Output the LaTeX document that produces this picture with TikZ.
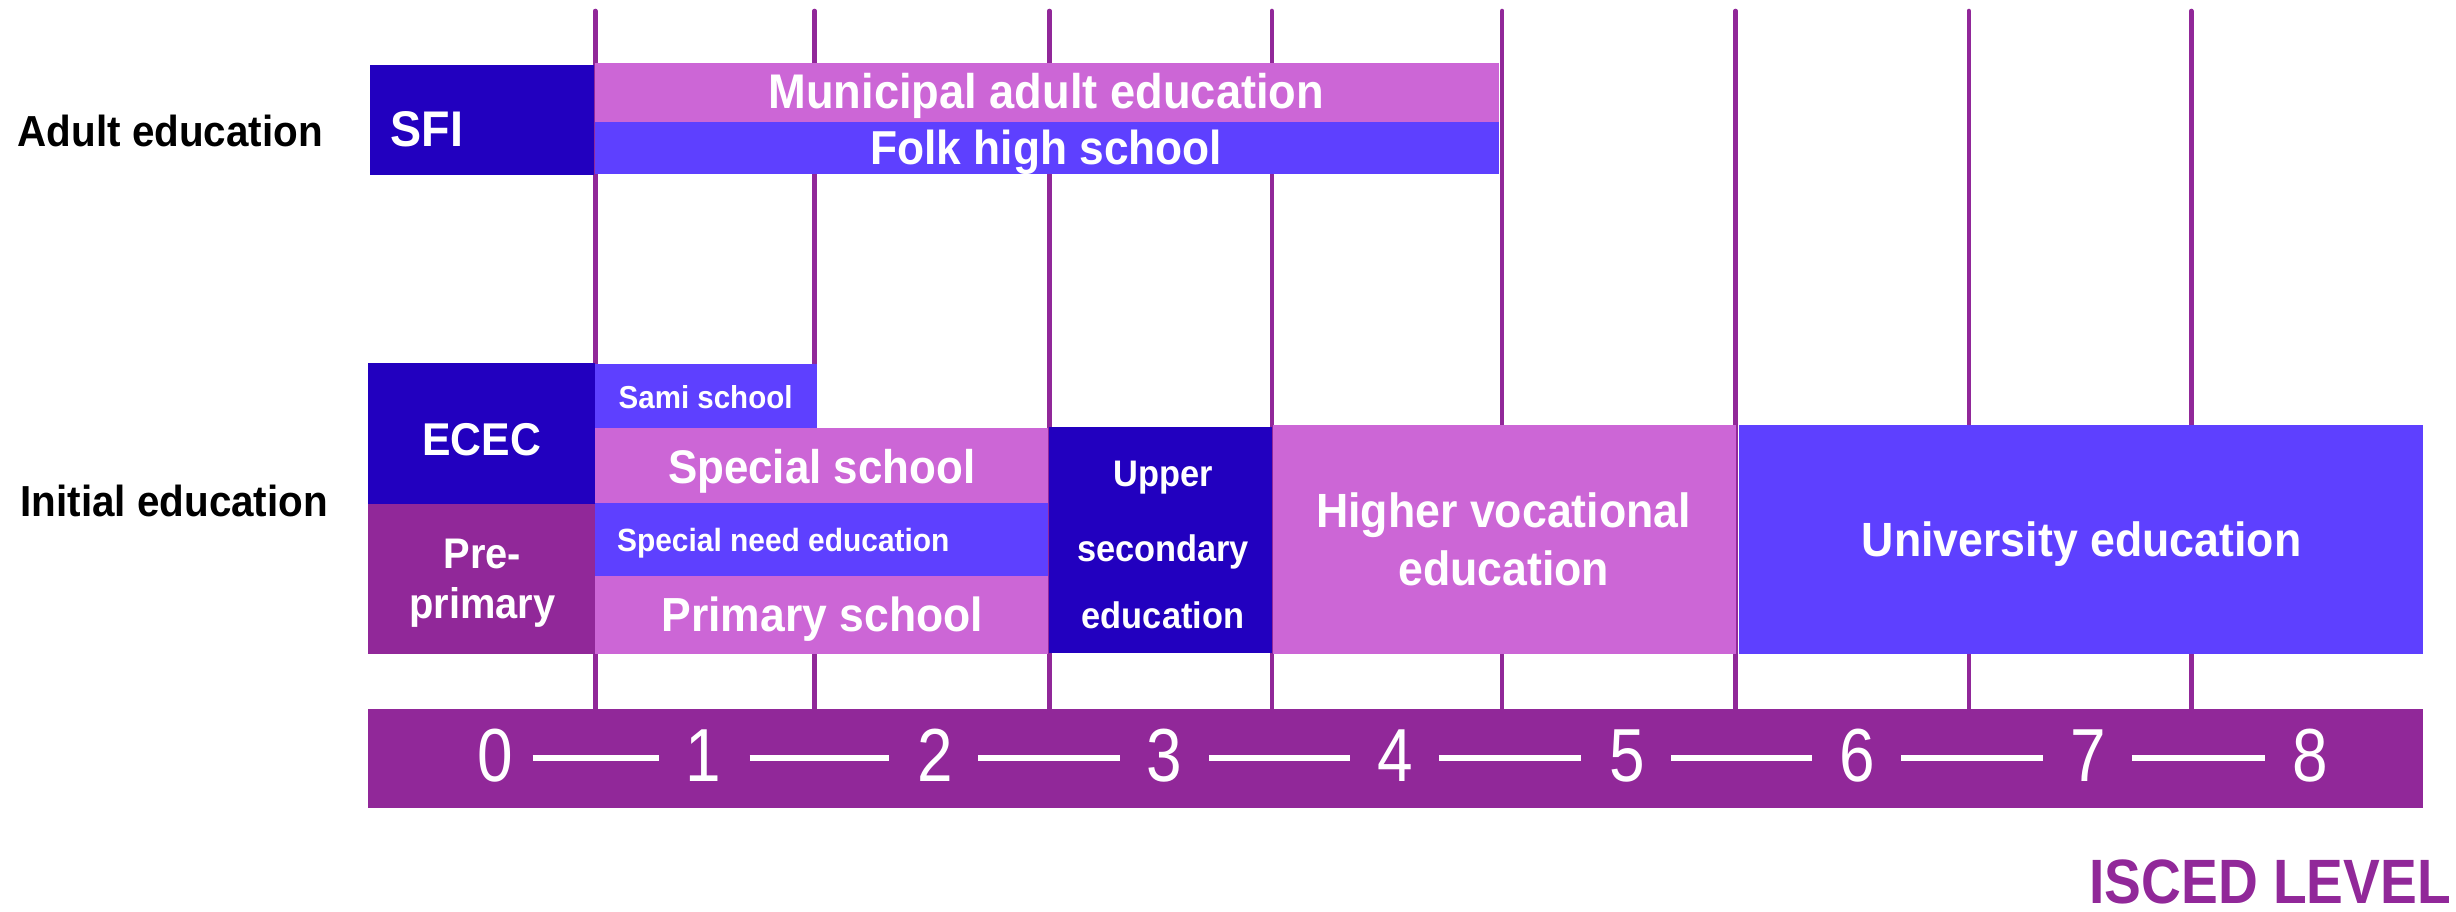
\documentclass[tikz,border=0pt]{standalone}
\usepackage{fontspec}
\setmainfont{Liberation Sans}[FakeStretch=0.93]
\newfontfamily\iscedfont{Liberation Sans}[FakeStretch=0.88]
\newfontfamily\digitfont{Liberation Sans}[FakeStretch=0.85]
\usetikzlibrary{calc}
\definecolor{dblue}{HTML}{2200BF}
\definecolor{vblue}{HTML}{5E40FF}
\definecolor{orchid}{HTML}{CC66D6}
\definecolor{plum}{HTML}{912899}
\begin{document}
\begin{tikzpicture}[x=0.75pt,y=-0.75pt,
  gridln/.style={draw=plum,line width=2.2pt,line cap=round},
  lbl/.style={anchor=base,inner sep=0pt,text=white},
  fs/.style={font=\fontsize{#1}{#1}\selectfont\bfseries},
  rowlbl/.style={anchor=base west,inner sep=0pt,text=black},
  digit/.style={anchor=base,inner sep=0pt,text=white,font=\digitfont\fontsize{36}{36}\selectfont},
  dashln/.style={draw=white,line width=2.9pt}]
\useasboundingbox (0,0) rectangle (1568,582);

% level grid lines
\foreach \x in {380,520,670,812,959,1108,1257,1399}
  \draw[gridln] (\x,7) -- (\x,453);

% boxes
\fill[dblue]  (236.4,41.5) rectangle (379,112);
\fill[orchid] (380,40) rectangle (957,77.7);
\fill[vblue]  (380,77.7) rectangle (957,111);
\fill[dblue]  (235,231.6) rectangle (380,322);
\fill[plum]   (235,322) rectangle (380,417.6);
\fill[vblue]  (380,232.6) rectangle (521.5,273);
\fill[orchid] (380,273) rectangle (669,321);
\fill[vblue]  (380,321) rectangle (669,368);
\fill[orchid] (380,368) rectangle (669,417.6);
\fill[dblue]  (670,272.6) rectangle (812,417);
\fill[orchid] (813,271.3) rectangle (1108,417.6);
\fill[vblue]  (1110,271.3) rectangle (1547,417.6);
\fill[plum]   (235,452.8) rectangle (1547,516);

% row labels
\node[rowlbl,fs=20.8] (adult) at (11,93.6) {Adult education};
\node[rowlbl,fs=20.8] (initial) at (12.8,330) {Initial education};

% box labels
\node[lbl,anchor=base west,fs=24] (sfi) at (249,93.6) {SFI};
\node[lbl,fs=23.3] (mun) at (668,69.2) {Municipal adult education};
\node[lbl,fs=22.8] (folk) at (668,105.3) {Folk high school};
\node[lbl,fs=22] (ecec) at (307.5,290.5) {ECEC};
\node[lbl,fs=20.5] (pre1) at (308,362.8) {Pre-};
\node[lbl,fs=20.5] (pre2) at (308,394.8) {primary};
\node[lbl,fs=15.2] (sami) at (450.5,260.6) {Sami school};
\node[lbl,fs=22.6] (spec) at (524.6,308.5) {Special school};
\node[lbl,anchor=base west,fs=15.4] (sne) at (393.7,352) {Special need education};
\node[lbl,fs=22.9] (prim) at (525,403.3) {Primary school};
\node[lbl,fs=17.7] (us1) at (742.5,310.7) {Upper};
\node[lbl,fs=17.7] (us2) at (742.5,358.6) {secondary};
\node[lbl,fs=17.7] (us3) at (742.5,401) {education};
\node[lbl,fs=23] (hv1) at (960,337) {Higher vocational};
\node[lbl,fs=23] (hv2) at (960,373.5) {education};
\node[lbl,fs=23] (uni) at (1329,355.4) {University education};

% ISCED scale
\node[digit] (d0) at (316,499) {0};
\node[digit] (d1) at (449,499) {1};
\node[digit] (d2) at (597,499) {2};
\node[digit] (d3) at (743.5,499) {3};
\node[digit] (d4) at (890.7,499) {4};
\node[digit] (d5) at (1039,499) {5};
\node[digit] (d6) at (1186,499) {6};
\node[digit] (d7) at (1333,499) {7};
\node[digit] (d8) at (1475,499) {8};
\draw[dashln] ($(d0.base)+(24,-15)$) -- ($(d1.base)+(-28,-15)$);
\draw[dashln] ($(d1.base)+(29.6,-15)$) -- ($(d2.base)+(-29.4,-15)$);
\draw[dashln] ($(d2.base)+(27.4,-15)$) -- ($(d3.base)+(-28.5,-15)$);
\draw[dashln] ($(d3.base)+(28.5,-15)$) -- ($(d4.base)+(-29,-15)$);
\draw[dashln] ($(d4.base)+(28,-15)$) -- ($(d5.base)+(-29.6,-15)$);
\draw[dashln] ($(d5.base)+(28,-15)$) -- ($(d6.base)+(-29,-15)$);
\draw[dashln] ($(d6.base)+(27.7,-15)$) -- ($(d7.base)+(-28.7,-15)$);
\draw[dashln] ($(d7.base)+(28,-15)$) -- ($(d8.base)+(-29,-15)$);

\node[anchor=base east,inner sep=0pt,text=plum,font=\iscedfont\bfseries\fontsize{30}{30}\selectfont] (isced) at (1565,577) {ISCED LEVEL};
\end{tikzpicture}
\end{document}
